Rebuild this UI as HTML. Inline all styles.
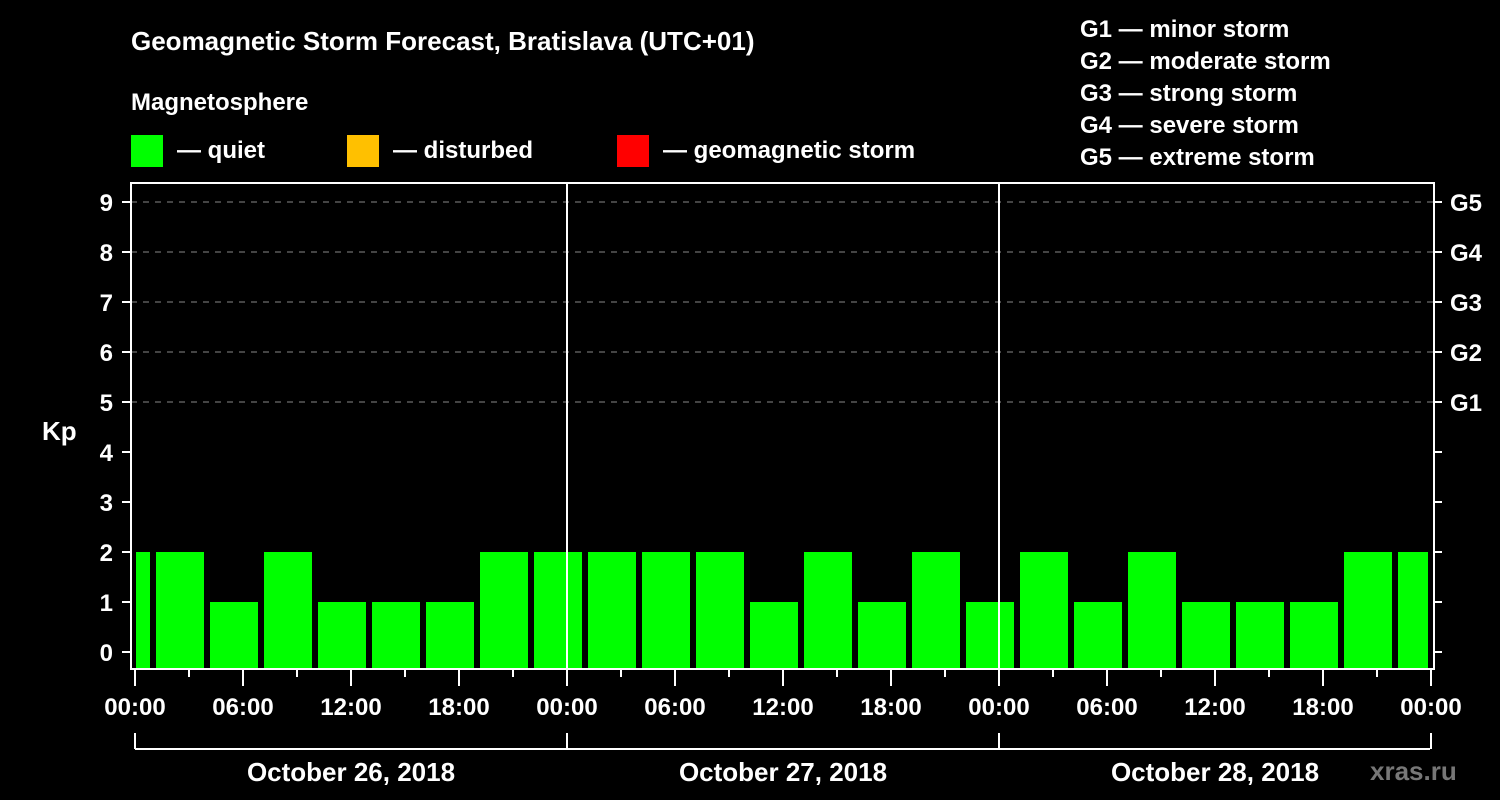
<!DOCTYPE html>
<html><head><meta charset="utf-8"><style>
html,body{margin:0;padding:0;background:#000;}
svg{display:block;font-family:"Liberation Sans",Arial,sans-serif;font-weight:bold;}
</style></head><body>
<svg id="c" width="1500" height="800" viewBox="0 0 1500 800">
<text x="131" y="50" fill="#fff" font-size="26">Geomagnetic Storm Forecast, Bratislava (UTC+01)</text>
<text x="131" y="110" fill="#fff" font-size="24">Magnetosphere</text>
<g><rect x="131" y="135" width="32" height="32" fill="#00ff00"/><text x="177" y="158" fill="#fff" font-size="24">— quiet</text></g>
<g><rect x="347" y="135" width="32" height="32" fill="#ffc000"/><text x="393" y="158" fill="#fff" font-size="24">— disturbed</text></g>
<g><rect x="617" y="135" width="32" height="32" fill="#ff0000"/><text x="663" y="158" fill="#fff" font-size="24">— geomagnetic storm</text></g>
<g fill="#fff" font-size="24">
<text x="1080" y="37">G1 — minor storm</text><text x="1080" y="69">G2 — moderate storm</text><text x="1080" y="101">G3 — strong storm</text><text x="1080" y="133">G4 — severe storm</text><text x="1080" y="165">G5 — extreme storm</text>
</g>
<text x="42" y="440" fill="#fff" font-size="26">Kp</text>
<text x="1370" y="780" fill="#777" font-size="26">xras.ru</text>
<defs><clipPath id="pc"><rect x="136" y="183" width="1292" height="486"/></clipPath></defs>
<g id="grid"></g><g id="bars" clip-path="url(#pc)"></g><g id="axes"></g>
</svg>
<script>
const values=[2,2,1,2,1,1,1,2,2,2,2,2,1,2,1,2,1,2,1,2,1,1,1,2,2];
const yTicks=[0,1,2,3,4,5,6,7,8,9];
const gLabels=["G1","G2","G3","G4","G5"];
const gLevels=[5,6,7,8,9];
const xLabels=["00:00","06:00","12:00","18:00","00:00","06:00","12:00","18:00","00:00","06:00","12:00","18:00","00:00"];
const days=["October 26, 2018","October 27, 2018","October 28, 2018"];
const NS="http://www.w3.org/2000/svg";
const x=h=>135+h*18;
const y=v=>652-v*50;
const L=131,R=1434,T=183,B=669;
function mk(p,tag,a,txt){const e=document.createElementNS(NS,tag);for(const k in a)e.setAttribute(k,a[k]);if(txt!=null)e.textContent=txt;document.getElementById(p).appendChild(e);return e;}
yTicks.forEach(v=>{if(v>=5){const g=mk('grid','line',{x1:L,x2:R,y1:y(v),y2:y(v),stroke:'#888','stroke-dasharray':'6,6','stroke-width':1});

}});
values.forEach((v,i)=>{const c=-0.5+3*i;const r=mk('bars','rect',{x:x(c)-24,y:y(v),width:48,height:B-1-y(v),fill:v>=5?'#ff0000':(v>=4?'#ffc000':'#00ff00')});

});
[567,999].forEach(px=>{const l=mk('axes','line',{x1:px,x2:px,y1:T,y2:B,stroke:'#fff','stroke-width':2});

});
const box=mk('axes','rect',{x:L,y:T,width:R-L,height:B-T,fill:'none',stroke:'#fff','stroke-width':2});


yTicks.forEach(v=>{mk('axes','line',{x1:122,x2:L,y1:y(v),y2:y(v),stroke:'#fff','stroke-width':2});
mk('axes','line',{x1:R,x2:1442,y1:y(v),y2:y(v),stroke:'#fff','stroke-width':2});
const t=mk('axes','text',{x:113,y:y(v)+9,fill:'#fff','font-size':24,'text-anchor':'end'},String(v));

});
gLevels.forEach((v,i)=>{const t=mk('axes','text',{x:1450,y:y(v)+9,fill:'#fff','font-size':24},gLabels[i]);

});
for(let h=0;h<=72;h+=3){const maj=h%6===0;mk('axes','line',{x1:x(h),x2:x(h),y1:B,y2:maj?686:677,stroke:'#fff','stroke-width':2});}
xLabels.forEach((s,i)=>{const t=mk('axes','text',{x:x(i*6),y:715,fill:'#fff','font-size':24,'text-anchor':'middle'},s);

});
mk('axes','line',{x1:135,x2:1430,y1:749,y2:749,stroke:'#fff','stroke-width':2});
[0,24,48,72].forEach(h=>mk('axes','line',{x1:x(h),x2:x(h),y1:733,y2:749,stroke:'#fff','stroke-width':2}));
days.forEach((d,i)=>{const t=mk('axes','text',{x:x(i*24+12),y:781,fill:'#fff','font-size':26,'text-anchor':'middle'},d);

});
</script>
</body></html>
